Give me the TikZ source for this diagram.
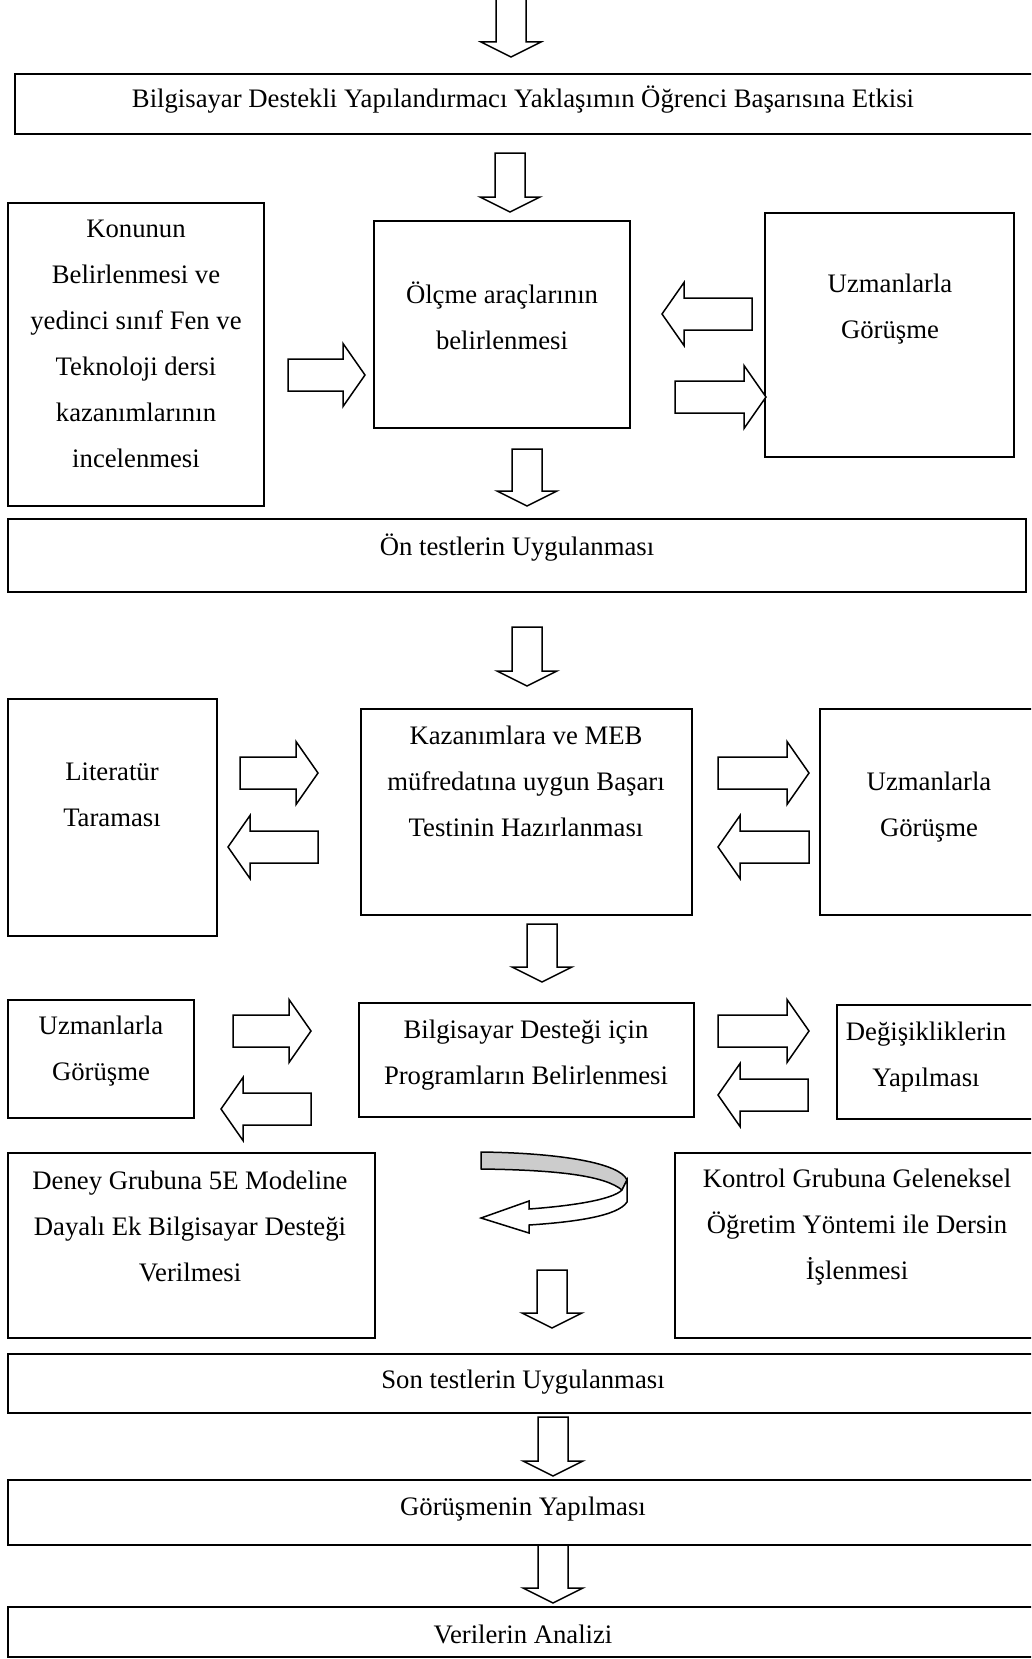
\documentclass[tikz,border=0pt]{standalone}
\usepackage{fontspec}
\setmainfont{Liberation Serif}
\newcommand\bx[5]{\node[box, minimum width={#4-#2}, minimum height={#5-#3}] (#1) at ({(#2+#4)/2},{(#3+#5)/2}) {};}
\newcommand\blkD[3]{\draw[blk] (#1-15,#2) -- (#1+15,#2) -- (#1+15,#3-15) -- (#1+30,#3-15) -- (#1,#3) -- (#1-30,#3-15) -- (#1-15,#3-15) -- cycle;}
\newcommand\blkR[3]{\draw[blk] (#1,#3-16) -- (#2-22,#3-16) -- (#2-22,#3-31.5) -- (#2,#3) -- (#2-22,#3+31.5) -- (#2-22,#3+16) -- (#1,#3+16) -- cycle;}
\newcommand\blkL[3]{\draw[blk] (#2,#3-16) -- (#1+22,#3-16) -- (#1+22,#3-31.5) -- (#1,#3) -- (#1+22,#3+31.5) -- (#1+22,#3+16) -- (#2,#3+16) -- cycle;}
\begin{document}
\begin{tikzpicture}[x=1pt,y=-1pt,
  box/.style={draw, line width=1.5pt, inner sep=0pt},
  txt/.style={font=\fontsize{26.7}{46}\selectfont, align=center, inner sep=0pt},
  blk/.style={draw, line width=1.5pt, fill=white, line join=miter},
  band/.style={draw, line width=1.5pt, fill=black!20, line join=round}]
\useasboundingbox (0,0) rectangle (1031,1659);
\clip (0,0) rectangle (1031,1659);
% boxes
\bx{title}{15}{74}{1045}{134}
\bx{kon}{8}{203}{264}{506}
\bx{olc}{374}{221}{630}{428}
\bx{uz1}{765}{213}{1014}{457}
\bx{on}{8}{519}{1026}{592}
\bx{lit}{8}{699}{217}{936}
\bx{kaz}{361}{709}{692}{915}
\bx{uz2}{820}{709}{1045}{915}
\bx{uz3}{8}{1000}{194}{1118}
\bx{bil}{359}{1003}{694}{1117}
\bx{deg}{837}{1005}{1045}{1119}
\bx{den}{8}{1153}{375}{1338}
\bx{kont}{675}{1153}{1045}{1338}
\bx{son}{8}{1354}{1045}{1413}
\bx{gor}{8}{1480}{1045}{1545}
\bx{ver}{8}{1607}{1045}{1657}
% texts
\node[txt] (t1) at (523,100) {Bilgisayar Destekli Yapılandırmacı Yaklaşımın Öğrenci Başarısına Etkisi};
\node[txt] (t2) at (136,344) {Konunun\\Belirlenmesi ve\\yedinci sınıf Fen ve\\Teknoloji dersi\\kazanımlarının\\incelenmesi};
\node[txt] (t3) at (502,316) {Ölçme araçlarının\\belirlenmesi};
\node[txt] (t4) at (890,309) {Uzmanlarla\\Görüşme};
\node[txt] (t5) at (517,548) {Ön testlerin Uygulanması};
\node[txt] (t6) at (112,795) {Literatür\\Taraması};
\node[txt] (t7) at (526,781) {Kazanımlara ve MEB\\müfredatına uygun Başarı\\Testinin Hazırlanması};
\node[txt] (t8) at (929,807) {Uzmanlarla\\Görüşme};
\node[txt] (t9) at (101,1051) {Uzmanlarla\\Görüşme};
\node[txt] (t10) at (526,1055) {Bilgisayar Desteği için\\Programların Belirlenmesi};
\node[txt] (t11) at (926,1057) {Değişikliklerin\\Yapılması};
\node[txt] (t12) at (190,1226) {Deney Grubuna 5E Modeline\\Dayalı Ek Bilgisayar Desteği\\Verilmesi};
\node[txt] (t13) at (857,1227) {Kontrol Grubuna Geleneksel\\Öğretim Yöntemi ile Dersin\\İşlenmesi};
\node[txt] (t14) at (523,1382) {Son testlerin Uygulanması};
\node[txt] (t15) at (523,1509) {Görüşmenin Yapılması};
\node[txt] (t16) at (523,1634) {Verilerin Analizi};
% down arrows
\blkD{511}{-2}{57}
\blkD{510}{153}{212}
\blkD{527}{449}{506}
\blkD{527}{627}{686}
\blkD{542}{924}{982}
\blkD{552}{1270}{1328}
\blkD{553}{1417}{1476}
\blkD{553}{1545}{1603}
% side arrows
\blkR{288}{365}{375}
\blkL{662}{752}{314}
\blkR{675}{766}{397}
\blkR{240}{318}{773}
\blkL{228}{318}{847}
\blkR{718}{809}{773}
\blkL{718}{809}{847}
\blkR{233}{311}{1031}
\blkL{221}{311}{1109}
\blkR{718}{809}{1031}
\blkL{718}{808}{1095}
% curved arrow
\draw[band] (481,1152) .. controls (560,1153) and (620,1163) .. (627,1180) -- (622,1190) .. controls (605,1176) and (560,1170) .. (481,1169) -- cycle;
\draw[blk] (627,1180) -- (627,1202) .. controls (618,1216) and (575,1222) .. (529,1225) -- (529,1233) -- (481,1218) -- (529,1201) -- (529,1209) .. controls (570,1206) and (612,1200) .. (622,1190) -- cycle;
\end{tikzpicture}
\end{document}
